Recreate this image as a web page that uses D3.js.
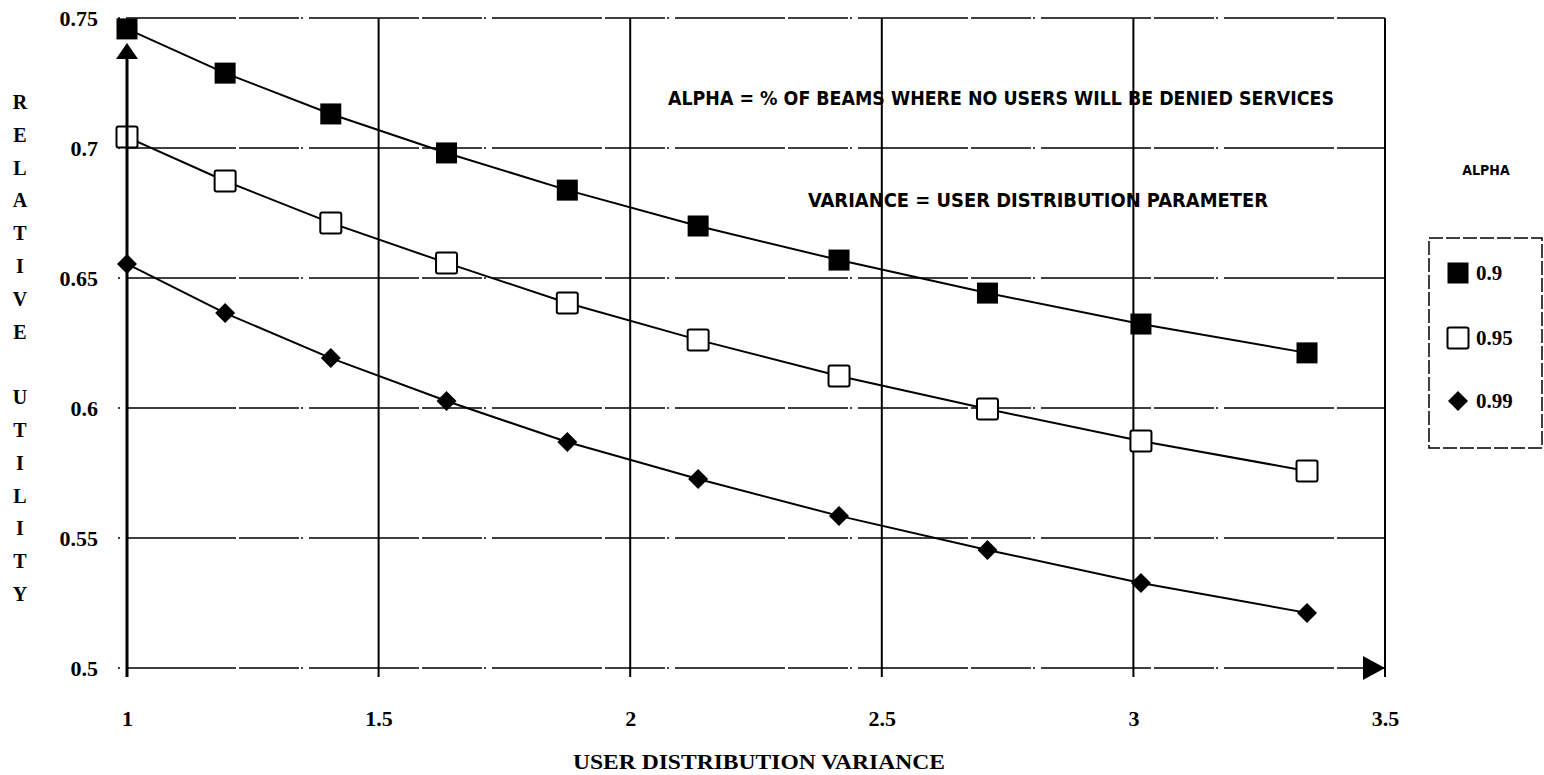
<!DOCTYPE html>
<html>
<head>
<meta charset="utf-8">
<script src="https://cdn.jsdelivr.net/npm/d3@7"></script>
<style>
  html, body { margin: 0; padding: 0; background: #fff; }
  svg { display: block; }
  .serif { font-family: "Liberation Serif", "DejaVu Serif", serif; font-weight: bold; fill: #000; }
  .narrow { font-family: "Liberation Sans Narrow", "DejaVu Sans Condensed", "Liberation Sans", sans-serif; font-weight: bold; fill: #000; }
</style>
</head>
<body>
<svg id="chart" width="1544" height="775"></svg>
<script>
// Relative utility vs. user distribution variance, one series per alpha level
const variance = [1, 1.195, 1.405, 1.635, 1.875, 2.135, 2.415, 2.71, 3.015, 3.345];
const alpha090 = [0.7458, 0.7288, 0.7131, 0.6981, 0.6838, 0.6700, 0.6569, 0.6442, 0.6323, 0.6212];
const alpha095 = [0.7042, 0.6873, 0.6712, 0.6558, 0.6404, 0.6262, 0.6123, 0.5996, 0.5873, 0.5758];
const alpha099 = [0.6554, 0.6365, 0.6192, 0.6027, 0.5869, 0.5727, 0.5585, 0.5454, 0.5327, 0.5212];

const seriesNames = ["0.9", "0.95", "0.99"];
const seriesMarkers = ["filledSquare", "openSquare", "diamond"];

const xTicks = [1, 1.5, 2, 2.5, 3, 3.5];
const xTickLabels = ["1", "1.5", "2", "2.5", "3", "3.5"];
const yTicks = [0.5, 0.55, 0.6, 0.65, 0.7, 0.75];
const yTickLabels = ["0.5", "0.55", "0.6", "0.65", "0.7", "0.75"];

const xTitle = "USER DISTRIBUTION VARIANCE";
const yTitleWords = ["RELATIVE", "UTILITY"];
const noteLines = [
  "ALPHA = % OF BEAMS WHERE NO USERS WILL BE DENIED SERVICES",
  "VARIANCE  =  USER  DISTRIBUTION  PARAMETER"
];
const legendTitle = "ALPHA";

const svg = d3.select("#chart");

const plot = { left: 127, right: 1385, top: 18, bottom: 668 };
const x = d3.scaleLinear().domain([1, 3.5]).range([plot.left, plot.right]);
const y = d3.scaleLinear().domain([0.5, 0.75]).range([plot.bottom, plot.top]);

// Horizontal grid (long dashes, slightly past the left axis)
svg.append("g").selectAll("line").data(yTicks).join("line")
  .attr("x1", plot.left - 9).attr("x2", plot.right)
  .attr("y1", d => y(d)).attr("y2", d => y(d))
  .attr("stroke", "#000").attr("stroke-width", 1.7)
  .attr("stroke-dasharray", "2,6,110,3,60,2");

// Vertical grid, extending below the bottom edge like tick marks
svg.append("g").selectAll("line").data(xTicks.slice(1)).join("line")
  .attr("x1", d => x(d)).attr("x2", d => x(d))
  .attr("y1", plot.top).attr("y2", plot.bottom + 9)
  .attr("stroke", "#000").attr("stroke-width", 2);

// Axis tick labels via d3 axes (lines hidden; grid drawn above)
const yAxis = d3.axisLeft(y).tickValues(yTicks)
  .tickFormat((d, i) => yTickLabels[i]).tickSize(0).tickPadding(29);
const gy = svg.append("g").attr("transform", `translate(${plot.left},0)`).call(yAxis);
gy.select(".domain").remove();
gy.selectAll("text").attr("class", "serif").style("font-size", "22px").attr("font-family", null);

const xAxis = d3.axisBottom(x).tickValues(xTicks)
  .tickFormat((d, i) => xTickLabels[i]).tickSize(0).tickPadding(42);
const gx = svg.append("g").attr("transform", `translate(0,${plot.bottom})`).call(xAxis);
gx.select(".domain").remove();
gx.selectAll("text").attr("class", "serif").style("font-size", "22px").attr("font-family", null);

// Series lines and markers
const seriesValues = [alpha090, alpha095, alpha099];
const line = d3.line().x(d => x(d[0])).y(d => y(d[1]));

function drawMarker(g, type, cx, cy) {
  if (type === "filledSquare") {
    g.append("rect").attr("x", cx - 10.5).attr("y", cy - 10.5).attr("width", 21).attr("height", 21)
      .attr("fill", "#000");
  } else if (type === "openSquare") {
    g.append("rect").attr("x", cx - 10.5).attr("y", cy - 10.5).attr("width", 21).attr("height", 21)
      .attr("rx", 2).attr("fill", "#fff").attr("stroke", "#000").attr("stroke-width", 2);
  } else {
    const r = 10;
    g.append("path").attr("d", `M${cx},${cy - r}L${cx + r},${cy}L${cx},${cy + r}L${cx - r},${cy}Z`)
      .attr("fill", "#000");
  }
}

seriesValues.forEach((vals, si) => {
  const pts = variance.map((v, i) => [v, vals[i]]);
  svg.append("path").datum(pts).attr("d", line)
    .attr("fill", "none").attr("stroke", "#000").attr("stroke-width", 2);
  const g = svg.append("g");
  pts.forEach(p => drawMarker(g, seriesMarkers[si], x(p[0]), y(p[1])));
});

// Left axis with upward arrow, bottom arrow at the right end
svg.append("line")
  .attr("x1", plot.left).attr("x2", plot.left)
  .attr("y1", y(0.75) + 30).attr("y2", plot.bottom + 9)
  .attr("stroke", "#000").attr("stroke-width", 3);
const ay = y(0.75) + 25;
svg.append("path")
  .attr("d", `M${plot.left},${ay}L${plot.left + 11},${ay + 16}L${plot.left - 11},${ay + 16}Z`)
  .attr("fill", "#000");
const ax = x(3.5);
svg.append("path")
  .attr("d", `M${ax},${plot.bottom}L${ax - 22},${plot.bottom - 12}L${ax - 22},${plot.bottom + 12}Z`)
  .attr("fill", "#000");

// Notes inside the plot
svg.append("text").attr("class", "narrow")
  .attr("x", 668).attr("y", 105).style("font-size", "19px")
  .attr("textLength", 666).attr("lengthAdjust", "spacingAndGlyphs")
  .text(noteLines[0]);
svg.append("text").attr("class", "narrow")
  .attr("x", 808).attr("y", 207).style("font-size", "19px")
  .attr("textLength", 460).attr("lengthAdjust", "spacingAndGlyphs")
  .text(noteLines[1]);

// Axis titles
svg.append("text").attr("class", "serif")
  .attr("x", 573).attr("y", 769).style("font-size", "22px")
  .attr("textLength", 372).attr("lengthAdjust", "spacingAndGlyphs")
  .text(xTitle);

const letterStep = 32.8;
let ly = 109;
yTitleWords.forEach((w, wi) => {
  if (wi > 0) ly += letterStep;
  w.split("").forEach(ch => {
    svg.append("text").attr("class", "serif")
      .attr("x", 20).attr("y", ly).attr("text-anchor", "middle")
      .style("font-size", "20px").text(ch);
    ly += letterStep;
  });
});

// Legend
svg.append("text").attr("class", "narrow")
  .attr("x", 1486).attr("y", 175).attr("text-anchor", "middle")
  .style("font-size", "14px").text(legendTitle);
svg.append("rect").attr("x", 1429).attr("y", 238).attr("width", 113).attr("height", 210)
  .attr("fill", "none").attr("stroke", "#000").attr("stroke-width", 1.5)
  .attr("stroke-dasharray", "14,3");
const legendRows = [279, 344, 407];
seriesNames.forEach((name, i) => {
  const g = svg.append("g");
  drawMarker(g, seriesMarkers[i], 1458, legendRows[i] - 6);
  g.append("text").attr("class", "serif")
    .attr("x", 1476).attr("y", legendRows[i] + 1).style("font-size", "21px").text(name);
});
</script>
</body>
</html>
